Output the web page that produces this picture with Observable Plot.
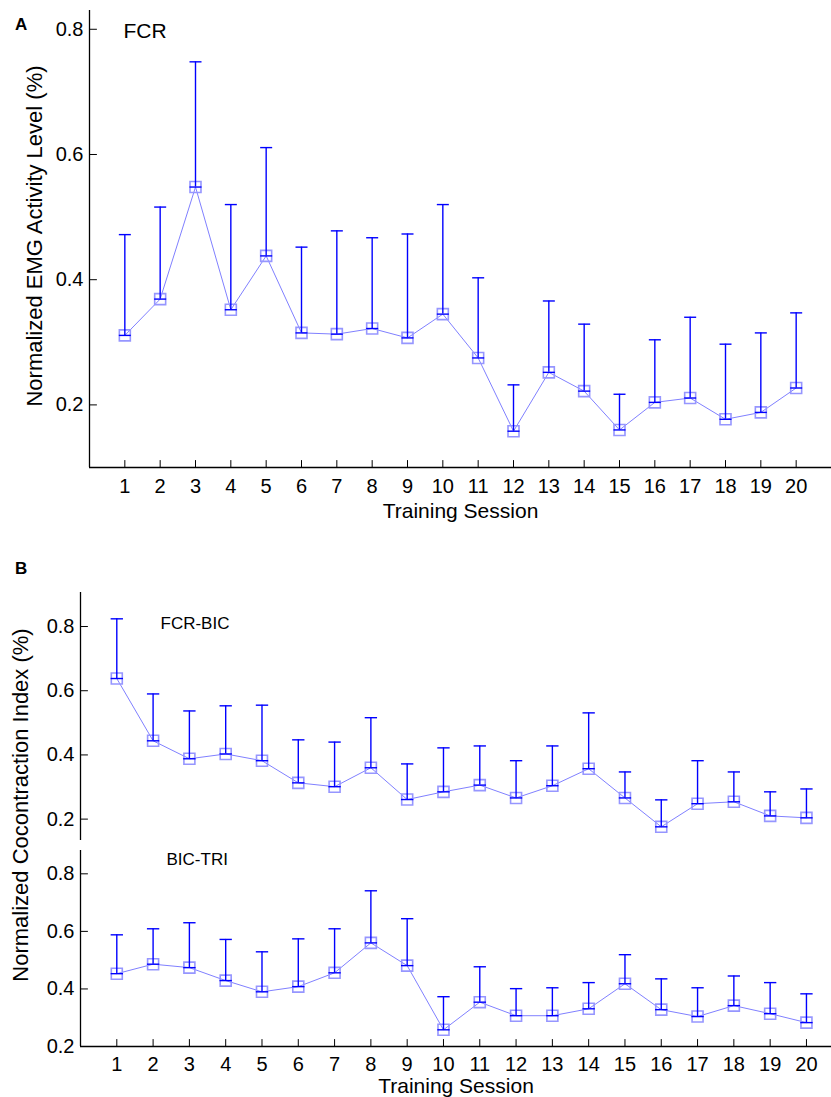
<!DOCTYPE html>
<html>
<head>
<meta charset="utf-8">
<script src="https://cdn.jsdelivr.net/npm/d3@7"></script>
<script src="https://cdn.jsdelivr.net/npm/@observablehq/plot@0.6"></script>
<style>
  html, body { margin: 0; padding: 0; background: #fff; }
  body { font-family: "Liberation Sans", Arial, Helvetica, sans-serif; }
  #wrap { position: relative; width: 831px; height: 1097px; overflow: hidden; background: #fff; }
  #wrap > .panel { position: absolute; left: 0; }
  .letter { position: absolute; font-weight: bold; font-size: 17px; line-height: 1; }
  .ylab { position: absolute; font-size: 22px; white-space: nowrap; transform: translate(-50%, -50%) rotate(-90deg); line-height: 1; }
</style>
</head>
<body>
<div id="wrap"></div>
<script>
// ---- data ----
const sessions = [1,2,3,4,5,6,7,8,9,10,11,12,13,14,15,16,17,18,19,20];

const fcrMean  = [0.311,0.369,0.548,0.352,0.438,0.315,0.313,0.322,0.307,0.345,0.275,0.158,0.252,0.222,0.160,0.204,0.211,0.177,0.188,0.227];
const fcrUpper = [0.472,0.516,0.748,0.520,0.611,0.452,0.478,0.467,0.473,0.520,0.403,0.232,0.366,0.329,0.217,0.304,0.340,0.297,0.315,0.347];

const fcrBicMean  = [0.638,0.444,0.388,0.403,0.382,0.313,0.301,0.360,0.261,0.285,0.306,0.266,0.304,0.357,0.266,0.176,0.248,0.254,0.210,0.204];
const fcrBicUpper = [0.824,0.590,0.537,0.553,0.555,0.447,0.440,0.516,0.372,0.422,0.428,0.382,0.428,0.531,0.347,0.260,0.382,0.347,0.285,0.294];

const bicTriMean  = [0.453,0.486,0.474,0.429,0.390,0.408,0.456,0.560,0.481,0.258,0.354,0.307,0.307,0.331,0.418,0.328,0.304,0.342,0.314,0.283];
const bicTriUpper = [0.588,0.609,0.630,0.572,0.529,0.574,0.609,0.741,0.644,0.373,0.477,0.401,0.404,0.422,0.519,0.435,0.404,0.445,0.422,0.383];

const yTicks = [0.2, 0.4, 0.6, 0.8];
const xLabel = "Training Session";
const yLabelA = "Normalized EMG Activity Level (%)";
const yLabelB = "Normalized Cocontraction Index (%)";

// ---- styles ----
const FONT = "'Liberation Sans', Arial, Helvetica, sans-serif";
const BAR = "#0000ff";
const LINE = "#8080ff";
const MARK = "#9696ff";
const capHalf = 0.17;
const tickShape = { draw(context, l) { context.moveTo(0, 0); context.lineTo(0, -l); } };

const wrap = document.getElementById("wrap");

function panel(o) {
  const rows = sessions.map((s, i) => ({ s, mean: o.mean[i], upper: o.upper[i] }));
  const marks = [
    Plot.ruleX([o.xDomain[0]], { stroke: "black", strokeWidth: 1.3 }),
    Plot.line(rows, { x: "s", y: "mean", stroke: LINE, strokeWidth: 1 }),
    Plot.dot(rows, { x: "s", y: "mean", symbol: "square", r: 6.2, stroke: MARK, strokeWidth: 1.6, fill: "none" }),
    Plot.ruleX(rows, { x: "s", y1: "mean", y2: "upper", stroke: BAR, strokeWidth: 1.4 }),
    Plot.link(rows, { x1: d => d.s - capHalf, x2: d => d.s + capHalf, y1: "upper", y2: "upper", stroke: BAR, strokeWidth: 1.4 }),
    Plot.link(rows, { x1: d => d.s - capHalf, x2: d => d.s + capHalf, y1: "mean", y2: "mean", stroke: BAR, strokeWidth: 1.4 }),
    Plot.vector(yTicks, { x: () => o.xDomain[0], y: d => d, length: 7, rotate: 90, anchor: "start", shape: tickShape, stroke: "black", strokeWidth: 1 }),
    Plot.axisY({ ticks: yTicks, tickSize: 0, tickPadding: 6, tickFormat: d3.format(".1f"), fontSize: o.tickFont, label: null })
  ];
  if (o.xAxis) {
    marks.push(
      Plot.ruleY([o.yDomain[0]], { stroke: "black", strokeWidth: 1.3 }),
      Plot.vector(sessions, { x: d => d, y: () => o.yDomain[0], length: 7, rotate: 0, anchor: "start", shape: tickShape, stroke: "black", strokeWidth: 1 }),
      Plot.axisX({ ticks: sessions, tickSize: 0, tickPadding: o.xPad, tickFormat: d => String(d), fontSize: o.tickFont, label: null }),
      Plot.text([xLabel], { text: d => d, frameAnchor: "bottom", dy: o.xLabelDy, lineAnchor: "middle", textAnchor: "middle", fontSize: 21 })
    );
  }
  if (o.yLabel) {
    marks.push(Plot.text([o.yLabel], { text: d => d, frameAnchor: "left", rotate: -90, dx: o.yLabelDx, dy: o.yLabelDy, textAnchor: "middle", lineAnchor: "middle", fontSize: 22 }));
  }
  marks.push(Plot.text([o.name], { text: d => d, frameAnchor: "top-left", dx: o.nameDx, dy: o.nameDy, textAnchor: "start", lineAnchor: "middle", fontSize: o.nameFont }));

  const svg = Plot.plot({
    width: 831,
    height: o.height,
    marginLeft: o.marginLeft,
    marginRight: 0,
    marginTop: o.marginTop,
    marginBottom: o.marginBottom,
    style: { fontFamily: FONT, background: "transparent", color: "black", overflow: "visible" },
    x: { domain: o.xDomain, axis: null },
    y: { domain: o.yDomain, axis: null },
    marks
  });
  svg.classList.add("panel");
  svg.style.top = o.top + "px";
  svg.style.position = "absolute";
  wrap.appendChild(svg);
}

// Panel A: FCR
panel({
  name: "FCR", mean: fcrMean, upper: fcrUpper,
  xDomain: [0, 21], yDomain: [0.1, 0.83],
  top: 0, height: 530, marginTop: 10, marginBottom: 63, marginLeft: 89,
  xAxis: true, xPad: 11, xLabelDy: 44, tickFont: 20,
  yLabel: yLabelA, yLabelDx: -55, yLabelDy: -3,
  nameDx: 34, nameDy: 21, nameFont: 21
});

// Panel B top: FCR-BIC
panel({
  name: "FCR-BIC", mean: fcrBicMean, upper: fcrBicUpper,
  xDomain: [0, 20.69], yDomain: [0.1334, 0.906],
  top: 540, height: 305, marginTop: 52, marginBottom: 5, marginLeft: 80,
  xAxis: false, tickFont: 20,
  nameDx: 80, nameDy: 31, nameFont: 17
});

// Panel B bottom: BIC-TRI
panel({
  name: "BIC-TRI", mean: bicTriMean, upper: bicTriUpper,
  xDomain: [0, 20.69], yDomain: [0.2, 0.881],
  top: 845, height: 252, marginTop: 5, marginBottom: 51, marginLeft: 80,
  xAxis: true, xPad: 10, xLabelDy: 40, tickFont: 20,
  nameDx: 86, nameDy: 9, nameFont: 17
});

// panel letters and shared y label for B
function addDiv(cls, text, css) {
  const d = document.createElement("div");
  d.className = cls;
  d.textContent = text;
  Object.assign(d.style, css);
  wrap.appendChild(d);
}
addDiv("letter", "A", { left: "15px", top: "16px" });
addDiv("letter", "B", { left: "15px", top: "560px" });
addDiv("ylab", yLabelB, { left: "21px", top: "805px" });
</script>
</body>
</html>
